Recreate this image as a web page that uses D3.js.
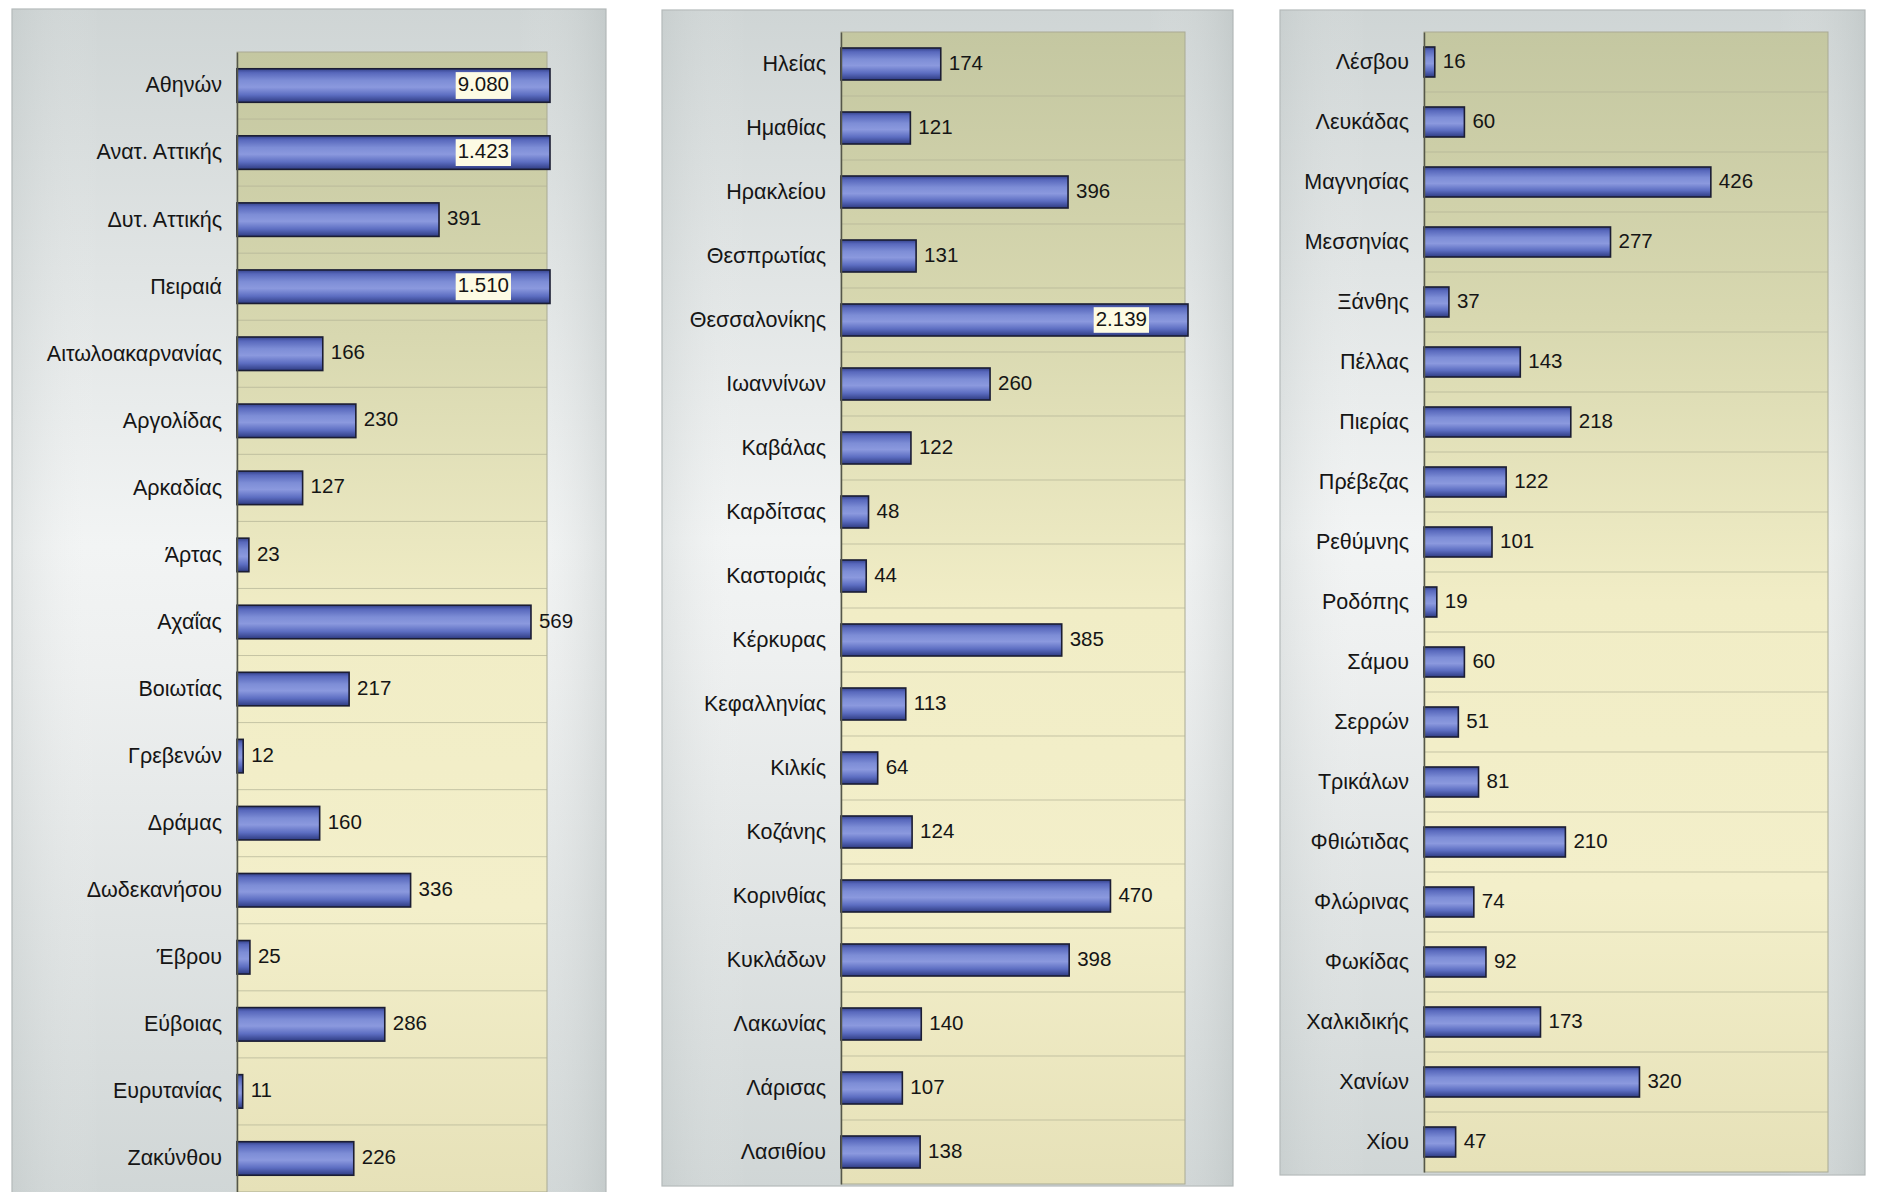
<!DOCTYPE html>
<html>
<head>
<meta charset="utf-8">
<script src="https://cdn.jsdelivr.net/npm/d3@7"></script>
<style>
  html, body { margin: 0; padding: 0; background: #ffffff; }
  svg { display: block; }
  text { font-family: "Liberation Sans", Arial, sans-serif; }
</style>
</head>
<body>
<svg id="chart" width="1877" height="1192"></svg>
<script>
// ---- Data ----
const categories1 = ["Αθηνών","Ανατ. Αττικής","Δυτ. Αττικής","Πειραιά","Αιτωλοακαρνανίας","Αργολίδας","Αρκαδίας","Άρτας","Αχαΐας","Βοιωτίας","Γρεβενών","Δράμας","Δωδεκανήσου","Έβρου","Εύβοιας","Ευρυτανίας","Ζακύνθου"];
const values1 = [9080,1423,391,1510,166,230,127,23,569,217,12,160,336,25,286,11,226];

const categories2 = ["Ηλείας","Ημαθίας","Ηρακλείου","Θεσπρωτίας","Θεσσαλονίκης","Ιωαννίνων","Καβάλας","Καρδίτσας","Καστοριάς","Κέρκυρας","Κεφαλληνίας","Κιλκίς","Κοζάνης","Κορινθίας","Κυκλάδων","Λακωνίας","Λάρισας","Λασιθίου"];
const values2 = [174,121,396,131,2139,260,122,48,44,385,113,64,124,470,398,140,107,138];

const categories3 = ["Λέσβου","Λευκάδας","Μαγνησίας","Μεσσηνίας","Ξάνθης","Πέλλας","Πιερίας","Πρέβεζας","Ρεθύμνης","Ροδόπης","Σάμου","Σερρών","Τρικάλων","Φθιώτιδας","Φλώρινας","Φωκίδας","Χαλκιδικής","Χανίων","Χίου"];
const values3 = [16,60,426,277,37,143,218,122,101,19,60,51,81,210,74,92,173,320,47];

const axisMax = 600;

// ---- Layout ----
const panels = [
  { cats: categories1, vals: values1, box: {x: 12,  y: 9,  w: 594, h: 1192}, plot: {l: 237, r: 547,  t: 52, b: 1192} },
  { cats: categories2, vals: values2, box: {x: 662, y: 10, w: 571, h: 1176}, plot: {l: 841, r: 1185, t: 32, b: 1184} },
  { cats: categories3, vals: values3, box: {x: 1280,y: 10, w: 585, h: 1165}, plot: {l: 1424,r: 1828, t: 32, b: 1172} }
];

const fmt = d3.formatLocale({decimal: ",", thousands: ".", grouping: [3], currency: ["", "€"]}).format(",d");

const svg = d3.select("#chart");
const defs = svg.append("defs");

// panel background gradient
const gPanel = defs.append("linearGradient").attr("id", "panelGrad").attr("x1", 0).attr("y1", 0).attr("x2", 0).attr("y2", 1);
[["0%", "#cfd5d5"], ["45%", "#f2f4f4"], ["55%", "#eef0f0"], ["100%", "#d0d6d6"]].forEach(s => gPanel.append("stop").attr("offset", s[0]).attr("stop-color", s[1]));

const gPanelH = defs.append("linearGradient").attr("id", "panelGradH").attr("x1", 0).attr("y1", 0).attr("x2", 1).attr("y2", 0);
[["0%", "rgba(180,188,188,0.25)"], ["15%", "rgba(255,255,255,0)"], ["85%", "rgba(255,255,255,0)"], ["100%", "rgba(170,178,178,0.3)"]].forEach(s => gPanelH.append("stop").attr("offset", s[0]).attr("stop-color", s[1]));

// plot area gradient
const gPlot = defs.append("linearGradient").attr("id", "plotGrad").attr("x1", 0).attr("y1", 0).attr("x2", 0).attr("y2", 1);
[["0%", "#c4c7a1"], ["25%", "#d8d8b0"], ["50%", "#f1edc6"], ["75%", "#f3efca"], ["100%", "#e6e1b8"]].forEach(s => gPlot.append("stop").attr("offset", s[0]).attr("stop-color", s[1]));

// bar gradient
const gBar = defs.append("linearGradient").attr("id", "barGrad").attr("x1", 0).attr("y1", 0).attr("x2", 0).attr("y2", 1);
[["0%", "#34428c"], ["12%", "#5868bc"], ["35%", "#7d8dd6"], ["55%", "#8b99de"], ["78%", "#5d6ec2"], ["100%", "#2e3b82"]].forEach(s => gBar.append("stop").attr("offset", s[0]).attr("stop-color", s[1]));

panels.forEach((p, pi) => {
  const g = svg.append("g");
  // panel box
  g.append("rect").attr("x", p.box.x).attr("y", p.box.y).attr("width", p.box.w).attr("height", p.box.h)
    .attr("fill", "url(#panelGrad)").attr("stroke", "#b4b9b9").attr("stroke-width", 1.2);
  g.append("rect").attr("x", p.box.x).attr("y", p.box.y).attr("width", p.box.w).attr("height", p.box.h)
    .attr("fill", "url(#panelGradH)");

  const x = d3.scaleLinear().domain([0, axisMax]).range([p.plot.l, p.plot.r]);
  const y = d3.scaleBand().domain(p.cats).range([p.plot.t, p.plot.b]).paddingInner(0.5).paddingOuter(0.25);

  // plot area
  g.append("rect").attr("x", p.plot.l).attr("y", p.plot.t).attr("width", p.plot.r - p.plot.l).attr("height", p.plot.b - p.plot.t)
    .attr("fill", "url(#plotGrad)").attr("stroke", "#a9aa94").attr("stroke-width", 1);

  // horizontal gridlines at category boundaries
  const step = y.step();
  const bounds = p.cats.slice(1).map((c, i) => y.range()[0] + (i + 1) * step);
  g.append("g").selectAll("line").data(bounds).join("line")
    .attr("x1", p.plot.l).attr("x2", p.plot.r)
    .attr("y1", d => d).attr("y2", d => d)
    .attr("stroke", "#b3b396").attr("stroke-width", 1).attr("opacity", 0.7);

  // bars
  const maxX = x.range()[1] + 3;
  g.append("g").selectAll("rect").data(p.vals).join("rect")
    .attr("x", x(0))
    .attr("y", (d, i) => y(p.cats[i]))
    .attr("width", d => Math.min(x(d), maxX) - x(0))
    .attr("height", y.bandwidth())
    .attr("fill", "url(#barGrad)")
    .attr("stroke", "#1b1d33").attr("stroke-width", 1.6);

  // category axis
  const ax = g.append("g").attr("transform", `translate(${p.plot.l},0)`)
    .call(d3.axisLeft(y).tickSize(0).tickPadding(15));
  ax.select(".domain").attr("stroke", "#55574a").attr("stroke-width", 1.5);
  ax.selectAll("text").attr("font-size", 21.5).attr("fill", "#151515")
    .attr("font-family", "'Liberation Sans', Arial, sans-serif");

  // value labels
  const lab = g.append("g");
  p.vals.forEach((v, i) => {
    const cy = y(p.cats[i]) + y.bandwidth() / 2;
    if (v <= axisMax) {
      lab.append("text").attr("x", x(v) + 8).attr("y", cy - 1).attr("dy", "0.32em")
        .attr("font-size", 20.5).attr("fill", "#151515").text(fmt(v));
    } else {
      const tx = x.range()[1] - 38;
      const t = lab.append("text").attr("x", tx).attr("y", cy - 1).attr("dy", "0.32em")
        .attr("text-anchor", "end").attr("font-size", 20.5).attr("fill", "#151515").text(fmt(v));
      const bb = t.node().getBBox();
      lab.insert("rect", "text").attr("x", bb.x - 2).attr("y", cy - y.bandwidth() * 0.4)
        .attr("width", bb.width + 4).attr("height", y.bandwidth() * 0.8)
        .attr("fill", "#fdfbe4");
      t.raise();
    }
  });
});
</script>
</body>
</html>
